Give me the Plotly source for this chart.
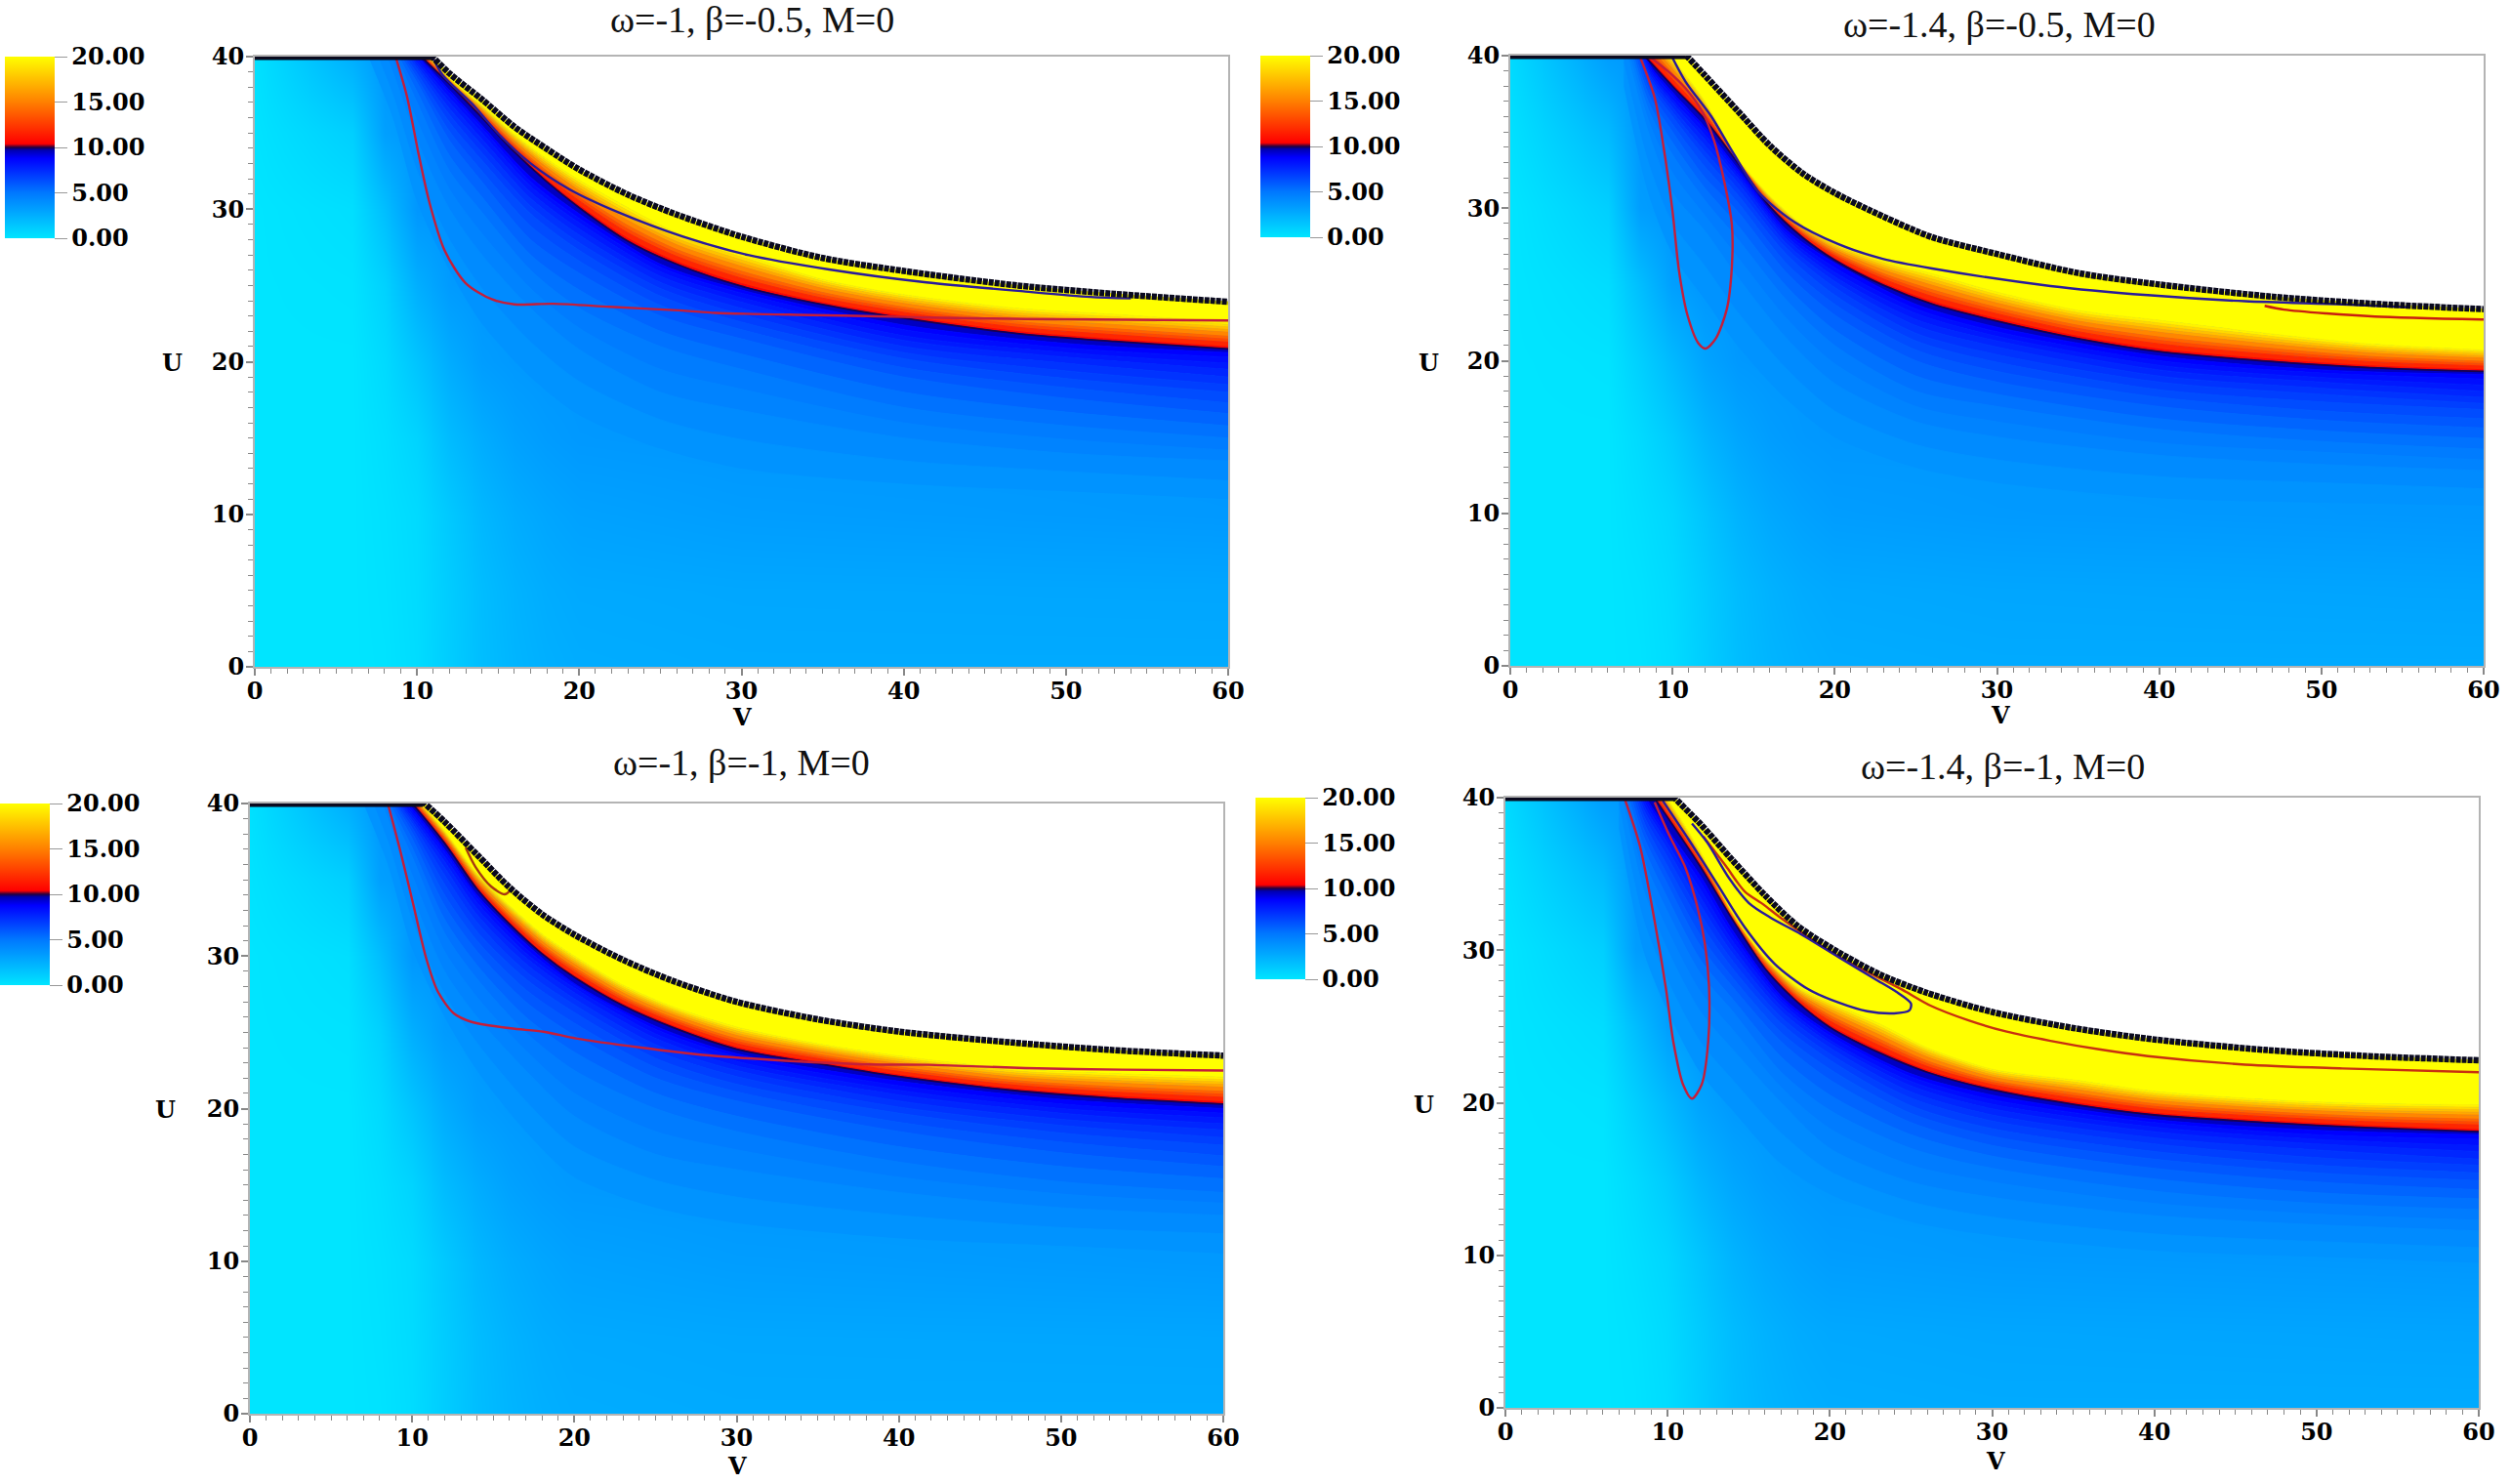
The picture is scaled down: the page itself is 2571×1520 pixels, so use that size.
# %%
import plotly.graph_objects as go
import plotly.colors as pc

W = 2571
H = 1520

TICK_FONT = dict(family="DejaVu Serif", size=24, color="black", weight="bold")
TITLE_FONT = dict(family="Liberation Serif", size=38, color="#111111")
AXIS_GREY = "#b4b4b4"

COLORSCALE = [
    [0.0, "#00e5ff"],
    [0.25, "#0078ff"],
    [0.44, "#0000ff"],
    [0.485, "#0000b0"],
    [0.5, "#200040"],
    [0.52, "#ff0000"],
    [0.75, "#ff8000"],
    [1.0, "#ffff00"],
]
CBAR_TICKS = [0, 5, 10, 15, 20]

# %% far field, read off the lower left of the panels
BASE_V = [0, 6, 8, 10, 12, 14, 16, 18, 20, 30, 60]
BASE_U = [0, 5, 10, 15, 20, 25, 30, 35, 40]
# omega=-1 panels
BASE_Z_A = [
    [0.0, 0.0, 0.1, 0.4, 1.1, 1.8, 2.2, 2.45, 2.6, 2.7, 2.7],
    [0.0, 0.0, 0.15, 0.45, 1.15, 1.85, 2.3, 2.6, 2.75, 2.85, 2.9],
    [0.0, 0.0, 0.2, 0.5, 1.3, 2.1, 2.6, 2.9, 3.1, 3.3, 3.5],
    [0.0, 0.0, 0.3, 0.8, 1.9, 2.6, 3.1, 3.35, 3.5, 3.6, 3.6],
    [0.0, 0.0, 0.5, 1.5, 2.6, 3.3, 3.5, 3.6, 3.6, 3.6, 3.6],
    [0.0, 0.1, 0.9, 2.5, 3.4, 3.6, 3.6, 3.6, 3.6, 3.6, 3.6],
    [0.0, 0.3, 1.8, 3.6, 3.6, 3.6, 3.6, 3.6, 3.6, 3.6, 3.6],
    [0.1, 1.0, 3.2, 3.6, 3.6, 3.6, 3.6, 3.6, 3.6, 3.6, 3.6],
    [0.2, 2.5, 3.6, 3.6, 3.6, 3.6, 3.6, 3.6, 3.6, 3.6, 3.6],
]
# omega=-1.4 panels
BASE_Z_B = [
    [0.0, 0.0, 0.1, 0.4, 1.1, 1.8, 2.2, 2.45, 2.6, 2.7, 2.7],
    [0.0, 0.0, 0.15, 0.5, 1.2, 1.9, 2.35, 2.65, 2.8, 2.9, 3.0],
    [0.0, 0.0, 0.3, 0.7, 1.5, 2.3, 2.8, 3.1, 3.3, 3.45, 3.6],
    [0.0, 0.0, 0.5, 1.2, 2.2, 2.9, 3.3, 3.5, 3.6, 3.6, 3.6],
    [0.0, 0.1, 1.0, 2.0, 3.0, 3.5, 3.6, 3.6, 3.6, 3.6, 3.6],
    [0.0, 0.4, 1.8, 3.2, 3.6, 3.6, 3.6, 3.6, 3.6, 3.6, 3.6],
    [0.0, 1.0, 3.3, 3.6, 3.6, 3.6, 3.6, 3.6, 3.6, 3.6, 3.6],
    [0.2, 2.0, 3.6, 3.6, 3.6, 3.6, 3.6, 3.6, 3.6, 3.6, 3.6],
    [0.5, 3.3, 3.6, 3.6, 3.6, 3.6, 3.6, 3.6, 3.6, 3.6, 3.6],
]

# %% level curves U(V) on the blue side of the ridge, one row per level
BLUE_LEVELS = [3.6, 3.95, 4.3, 4.65, 5.0, 5.4, 5.8, 6.2, 6.6, 7.0, 7.4, 7.8, 8.2, 8.6, 9.0]
BLUE_V = [7, 8.5, 10, 12, 14, 17, 20, 25, 30, 40, 50, 60]

TL_BLUE = [
    [40, 36, 30.5, 26, 22.5, 19, 16.5, 14.3, 13, 12, 11.5, 11],
    [41.5, 37.5, 32.5, 28, 24.8, 21.3, 18.7, 16.2, 14.9, 13.5, 12.8, 12.2],
    [43, 39, 34.5, 30, 27, 23.5, 20.8, 18, 16.8, 15, 14, 13.5],
    [43.5, 39.8, 35.8, 31.3, 28.4, 24.8, 22.2, 19.5, 18.2, 16, 14.9, 14.2],
    [44, 40.5, 37, 32.5, 29.8, 26, 23.5, 21, 19.5, 17, 15.8, 15],
    [44.2, 40.8, 37.7, 33.5, 30.8, 27, 24.7, 22, 20.5, 18, 16.7, 15.8],
    [44.5, 41, 38.3, 34.5, 31.8, 28, 25.8, 23, 21.5, 19, 17.6, 16.6],
    [44.7, 41.2, 38.6, 35.1, 32.5, 28.9, 26.6, 23.7, 22.1, 19.6, 18.3, 17.3],
    [45, 41.3, 38.9, 35.7, 33.2, 29.7, 27.3, 24.3, 22.6, 20.2, 18.9, 18],
    [45.2, 41.4, 39.2, 36.2, 33.7, 30.2, 27.8, 24.8, 23.1, 20.6, 19.4, 18.5],
    [45.5, 41.5, 39.4, 36.6, 34.2, 30.7, 28.3, 25.2, 23.5, 21, 19.9, 19],
    [45.7, 41.6, 39.6, 37, 34.6, 31.1, 28.7, 25.6, 23.9, 21.4, 20.3, 19.5],
    [46, 41.7, 39.8, 37.3, 35, 31.5, 29.1, 25.9, 24.2, 21.7, 20.6, 19.9],
    [46.2, 41.8, 40, 37.6, 35.3, 31.8, 29.4, 26.2, 24.5, 22.1, 20.9, 20.3],
    [46.5, 41.9, 40.1, 37.8, 35.5, 32.1, 29.7, 26.4, 24.7, 22.4, 21.2, 20.6],
]
TR_BLUE = [
    [38, 31, 27, 24, 21, 17.5, 15, 13, 12, 11, 10.7, 10.5],
    [39.5, 33, 29, 26.2, 23.2, 19.5, 16.7, 14.5, 13.5, 12.4, 12, 11.6],
    [41, 35, 31, 28.5, 25.5, 21.5, 18.5, 16, 15, 13.8, 13.2, 12.8],
    [41.5, 35.8, 32.3, 29.5, 26.8, 22.8, 19.8, 17, 16, 14.6, 14, 13.5],
    [42, 36.5, 33.5, 30.5, 28, 24, 21, 18, 17, 15.5, 14.7, 14.2],
    [42.5, 37, 34.3, 31.3, 28.9, 24.9, 22, 19, 17.8, 16.2, 15.4, 14.9],
    [43, 37.5, 35, 32, 29.8, 25.8, 23, 20, 18.6, 17, 16.1, 15.6],
    [43.5, 37.9, 35.5, 32.7, 30.4, 26.4, 23.7, 20.7, 19.3, 17.6, 16.7, 16.2],
    [44, 38.3, 36, 33.3, 30.9, 27, 24.3, 21.3, 19.9, 18.1, 17.3, 16.8],
    [44.5, 38.6, 36.3, 33.7, 31.3, 27.4, 24.8, 21.8, 20.4, 18.6, 17.8, 17.2],
    [45, 38.8, 36.6, 34.1, 31.7, 27.7, 25.2, 22.3, 20.9, 19, 18.2, 17.6],
    [45.5, 39, 36.9, 34.5, 32, 28, 25.5, 22.7, 21.3, 19.4, 18.6, 18],
    [46, 39.2, 37.1, 34.8, 32.2, 28.2, 25.8, 23.1, 21.6, 19.7, 18.9, 18.4],
    [46.5, 39.4, 37.4, 35.1, 32.4, 28.4, 26.1, 23.4, 21.9, 20, 19.2, 18.8],
    [47, 39.6, 37.6, 35.3, 32.6, 28.6, 26.4, 23.7, 22.2, 20.3, 19.4, 19.1],
]
BL_BLUE = [
    [40, 36, 30.5, 26, 22.5, 18.5, 15.5, 13.5, 12.5, 11.5, 11, 10.5],
    [41.5, 37.5, 32.3, 27.5, 24.3, 20.5, 17.5, 15.3, 14.2, 13, 12.2, 11.8],
    [43, 39, 34, 29, 26, 22.5, 19.5, 17, 16, 14.5, 13.5, 13],
    [43.5, 39.5, 35.3, 30.3, 27.3, 23.8, 21, 18.5, 17.3, 15.5, 14.4, 13.8],
    [44, 40, 36.5, 31.5, 28.5, 25, 22.5, 20, 18.5, 16.5, 15.2, 14.5],
    [44.2, 40.3, 37.1, 32.4, 29.4, 26, 23.7, 21, 19.5, 17.5, 16.2, 15.4],
    [44.5, 40.6, 37.7, 33.3, 30.3, 27, 24.8, 22, 20.5, 18.5, 17.1, 16.2],
    [44.7, 40.8, 38.1, 34, 31, 27.8, 25.6, 22.7, 21.1, 19.1, 17.8, 16.9],
    [45, 40.9, 38.4, 34.7, 31.6, 28.5, 26.3, 23.3, 21.6, 19.7, 18.4, 17.6],
    [45.2, 41, 38.7, 35.3, 32.2, 29, 26.8, 23.8, 22.1, 20.1, 18.9, 18.1],
    [45.5, 41.1, 38.9, 35.8, 32.7, 29.5, 27.2, 24.2, 22.5, 20.5, 19.3, 18.6],
    [45.7, 41.2, 39.1, 36.2, 33.1, 29.9, 27.6, 24.6, 22.8, 20.9, 19.7, 19],
    [46, 41.3, 39.3, 36.5, 33.5, 30.2, 27.9, 24.9, 23.1, 21.2, 20, 19.4],
    [46.2, 41.4, 39.5, 36.8, 33.8, 30.5, 28.1, 25.2, 23.4, 21.5, 20.3, 19.7],
    [46.5, 41.5, 39.7, 37, 34, 30.8, 28.2, 25.4, 23.6, 21.8, 20.6, 20],
]
BR_BLUE = [
    [38, 30, 26, 22, 19.5, 16, 14, 12.2, 11.3, 10.3, 9.9, 9.5],
    [39.5, 32, 28, 24, 21.5, 18, 15.5, 13.5, 12.5, 11.4, 10.9, 10.5],
    [41, 34, 30, 26, 23.5, 20, 17, 14.8, 13.8, 12.6, 12, 11.6],
    [41.5, 35, 31.3, 27.3, 24.8, 21, 18.3, 15.9, 14.8, 13.4, 12.7, 12.3],
    [42, 36, 32.5, 28.5, 26, 22, 19.5, 17, 15.7, 14.2, 13.4, 13],
    [42.5, 36.8, 33.4, 29.4, 26.8, 23, 20.5, 17.9, 16.5, 15, 14.1, 13.7],
    [43, 37.5, 34.3, 30.3, 27.6, 24, 21.5, 18.7, 17.2, 15.7, 14.8, 14.3],
    [43.5, 38, 34.9, 31, 28.2, 24.6, 22.2, 19.3, 17.8, 16.3, 15.4, 14.9],
    [44, 38.5, 35.5, 31.8, 28.8, 25.2, 22.8, 19.8, 18.3, 16.8, 15.9, 15.4],
    [44.5, 38.9, 36.1, 32.4, 29.3, 25.6, 23.2, 20.3, 18.8, 17.3, 16.4, 15.9],
    [45, 39.3, 36.6, 33, 29.8, 26, 23.6, 20.7, 19.2, 17.7, 16.9, 16.3],
    [45.5, 39.6, 37, 33.5, 30.2, 26.3, 23.9, 21.1, 19.6, 18.1, 17.3, 16.8],
    [46, 39.9, 37.3, 34, 30.6, 26.6, 24.1, 21.4, 19.9, 18.4, 17.6, 17.2],
    [46.5, 40.2, 37.6, 34.5, 31, 26.8, 24.4, 21.7, 20.2, 18.7, 17.9, 17.6],
    [47, 40.4, 37.9, 34.9, 31.3, 27, 24.6, 21.9, 20.5, 18.9, 18.2, 17.9],
]

# %% warm side of the ridge, one row per V, columns follow WARM_LEVELS
WARM_LEVELS = [10, 11, 12.5, 13.5, 14.5, 16, 17, 18, 19, 20]
WARM_V = [8, 10, 12, 14, 16, 18, 20, 23, 26, 30, 35, 40, 47, 53, 60]

TL_WARM = [
    [43, 43.02, 43.05, 43.07, 43.09, 43.12, 43.14, 43.16, 43.18, 43.2],
    [40.3, 40.35, 40.45, 40.52, 40.58, 40.67, 40.73, 40.79, 40.85, 40.9],
    [38.2, 38.23, 38.3, 38.35, 38.39, 38.45, 38.49, 38.53, 38.57, 38.6],
    [36, 36.06, 36.2, 36.29, 36.38, 36.5, 36.58, 36.66, 36.73, 36.8],
    [33.75, 33.84, 34.04, 34.17, 34.29, 34.46, 34.58, 34.69, 34.8, 34.9],
    [31.8, 31.92, 32.18, 32.34, 32.5, 32.73, 32.88, 33.03, 33.17, 33.3],
    [30.1, 30.24, 30.55, 30.75, 30.95, 31.22, 31.4, 31.58, 31.74, 31.9],
    [27.9, 28.08, 28.45, 28.69, 28.93, 29.26, 29.48, 29.7, 29.9, 30.1],
    [26.4, 26.56, 26.91, 27.14, 27.36, 27.67, 27.88, 28.08, 28.27, 28.45],
    [24.95, 25.12, 25.47, 25.7, 25.93, 26.25, 26.46, 26.67, 26.86, 27.05],
    [23.75, 23.88, 24.17, 24.36, 24.54, 24.8, 24.97, 25.13, 25.27, 25.4],
    [22.85, 22.98, 23.24, 23.42, 23.58, 23.82, 23.98, 24.13, 24.27, 24.4],
    [21.85, 21.98, 22.26, 22.45, 22.63, 22.87, 23.04, 23.2, 23.35, 23.5],
    [21.33, 21.47, 21.77, 21.97, 22.16, 22.43, 22.61, 22.78, 22.94, 23.1],
    [20.84, 20.98, 21.28, 21.48, 21.67, 21.93, 22.11, 22.28, 22.44, 22.6],
]
TR_WARM = [
    [40.3, 40.46, 40.8, 41.02, 41.24, 41.54, 41.74, 41.94, 42.12, 42.3],
    [38, 38.14, 38.45, 38.65, 38.85, 39.12, 39.3, 39.48, 39.64, 39.8],
    [35.8, 35.9, 36.1, 36.23, 36.36, 36.54, 36.66, 36.78, 36.89, 37],
    [33, 33.02, 33.08, 33.11, 33.14, 33.19, 33.22, 33.25, 33.28, 33.3],
    [30.1, 30.15, 30.27, 30.35, 30.42, 30.53, 30.6, 30.67, 30.74, 30.8],
    [28.1, 28.16, 28.3, 28.39, 28.48, 28.6, 28.68, 28.76, 28.83, 28.9],
    [26.6, 26.7, 26.88, 27.0, 27.12, 27.28, 27.39, 27.5, 27.6, 27.7],
    [24.95, 25.08, 25.36, 25.54, 25.71, 25.95, 26.11, 26.26, 26.41, 26.55],
    [23.72, 23.88, 24.22, 24.45, 24.66, 24.95, 25.15, 25.35, 25.53, 25.7],
    [22.6, 22.75, 23.08, 23.29, 23.49, 23.78, 23.97, 24.16, 24.33, 24.5],
    [21.45, 21.6, 21.91, 22.12, 22.32, 22.6, 22.79, 22.97, 23.14, 23.3],
    [20.6, 20.76, 21.11, 21.34, 21.56, 21.87, 22.08, 22.28, 22.47, 22.65],
    [19.95, 20.09, 20.4, 20.6, 20.8, 21.07, 21.25, 21.43, 21.59, 21.75],
    [19.55, 19.67, 19.94, 20.11, 20.28, 20.51, 20.67, 20.82, 20.96, 21.1],
    [19.3, 19.41, 19.65, 19.81, 19.96, 20.17, 20.31, 20.45, 20.58, 20.7],
]
BL_WARM = [
    [42.3, 42.36, 42.48, 42.56, 42.63, 42.73, 42.8, 42.87, 42.94, 43],
    [40, 40.06, 40.18, 40.26, 40.33, 40.43, 40.5, 40.57, 40.64, 40.7],
    [37.4, 37.46, 37.6, 37.69, 37.78, 37.9, 37.98, 38.06, 38.13, 38.2],
    [34.4, 34.48, 34.65, 34.76, 34.87, 35.02, 35.12, 35.22, 35.31, 35.4],
    [32.1, 32.2, 32.4, 32.53, 32.66, 32.84, 32.96, 33.08, 33.19, 33.3],
    [30.15, 30.25, 30.48, 30.62, 30.76, 30.96, 31.09, 31.22, 31.34, 31.45],
    [28.6, 28.71, 28.95, 29.11, 29.26, 29.47, 29.61, 29.75, 29.88, 30],
    [26.75, 26.86, 27.09, 27.24, 27.38, 27.59, 27.73, 27.86, 27.98, 28.1],
    [25.35, 25.46, 25.69, 25.84, 25.98, 26.19, 26.33, 26.46, 26.58, 26.7],
    [23.9, 24.02, 24.26, 24.42, 24.58, 24.8, 24.95, 25.09, 25.22, 25.35],
    [22.95, 23.05, 23.28, 23.42, 23.56, 23.76, 23.89, 24.02, 24.14, 24.25],
    [22.1, 22.21, 22.44, 22.59, 22.73, 22.94, 23.08, 23.21, 23.33, 23.45],
    [21.2, 21.31, 21.55, 21.71, 21.86, 22.07, 22.21, 22.35, 22.48, 22.6],
    [20.7, 20.83, 21.1, 21.28, 21.45, 21.69, 21.85, 22.01, 22.16, 22.3],
    [20.3, 20.44, 20.74, 20.94, 21.13, 21.4, 21.58, 21.75, 21.91, 22.07],
]
BR_WARM = [
    [41.8, 41.88, 42.05, 42.16, 42.27, 42.42, 42.52, 42.62, 42.71, 42.8],
    [38.7, 38.8, 39, 39.13, 39.26, 39.44, 39.56, 39.68, 39.79, 39.9],
    [35.5, 35.58, 35.75, 35.86, 35.97, 36.12, 36.22, 36.32, 36.41, 36.5],
    [32, 32.04, 32.12, 32.18, 32.23, 32.3, 32.35, 32.4, 32.45, 32.5],
    [28.8, 28.87, 29.0, 29.1, 29.2, 29.3, 29.37, 29.43, 29.47, 29.5],
    [26.6, 26.68, 26.85, 26.96, 27.07, 27.22, 27.32, 27.42, 27.51, 27.6],
    [24.95, 25.08, 25.36, 25.55, 25.73, 25.97, 26.14, 26.3, 26.45, 26.6],
    [23.3, 23.45, 23.78, 24.0, 24.2, 24.48, 24.67, 24.86, 25.03, 25.2],
    [22, 22.12, 22.38, 22.56, 22.74, 23, 23.17, 23.33, 23.47, 23.6],
    [20.85, 20.96, 21.19, 21.34, 21.48, 21.69, 21.83, 21.96, 22.08, 22.2],
    [19.9, 20.03, 20.3, 20.48, 20.65, 20.89, 21.05, 21.21, 21.36, 21.5],
    [19.2, 19.32, 19.59, 19.76, 19.93, 20.16, 20.32, 20.47, 20.61, 20.75],
    [18.7, 18.82, 19.08, 19.25, 19.41, 19.63, 19.78, 19.93, 20.07, 20.2],
    [18.37, 18.5, 18.77, 18.94, 19.11, 19.35, 19.51, 19.67, 19.81, 19.95],
    [18.1, 18.24, 18.54, 18.74, 18.93, 19.19, 19.37, 19.54, 19.7, 19.86],
]

# %% outer black edge, same V as WARM_V
TL_EDGE = [43, 41, 38.9, 37.2, 35.4, 33.95, 32.6, 30.95, 29.65, 28.2, 26.8, 25.95, 25, 24.45, 23.93]
TR_EDGE = [43.5, 41, 38.7, 36.4, 34.1, 32.3, 31, 29.45, 28.1, 27, 25.75, 25, 24.2, 23.75, 23.38]
BL_EDGE = [43.3, 40.8, 38.8, 36.65, 34.5, 32.75, 31.4, 29.75, 28.4, 27, 25.85, 25.05, 24.33, 23.85, 23.47]
BR_EDGE = [43.5, 40.5, 38.3, 35.9, 33.6, 31.6, 30.2, 28.45, 27.2, 25.95, 24.9, 24.15, 23.45, 23.07, 22.78]

# flat black stretch along U=40, from V=0 to where the edge leaves the top
TOP_END_V = [10.95, 10.8, 10.65, 10.35]

# %% contour lines
TL_RED_V = [8.68, 9.4, 10.08, 10.75, 11.7, 13, 14.6, 16, 18.4, 21.9, 26.4, 28.4, 34.4, 38.4, 41.4, 47.5, 60]
TL_RED_U = [40, 37.3, 33.7, 30.5, 27.3, 25.15, 24.1, 23.76, 23.8, 23.6, 23.35, 23.2, 23.06, 22.98, 22.9, 22.8, 22.7]
TL_BLUE_V = [10.95, 11.57, 13.4, 15, 17, 19.4, 22.4, 26.4, 30.4, 35.4, 41.4, 47.5, 51.5, 54]
TL_BLUE_U = [40, 38.8, 36.9, 34.96, 33, 31.3, 29.8, 28.2, 27, 26.05, 25.2, 24.6, 24.25, 24.15]

TR_RED_V = [7.97, 8.9, 9.45, 10, 10.4, 10.93, 11.6, 12.05, 12.67, 13.35, 13.66, 13.66, 13.2, 12.54, 11.85, 10.77, 9.7, 8.5]
TR_RED_U = [40, 37.25, 34, 29.8, 25.9, 22.96, 21.14, 20.8, 21.46, 23.4, 26.2, 28.9, 31.7, 34.5, 36.3, 37.9, 39, 40]
TR_RED2_V = [46.5, 47.7, 50.3, 53.3, 60]
TR_RED2_U = [23.6, 23.35, 23.1, 22.9, 22.7]
TR_BLUE_V = [9.93, 10.8, 12.4, 13.75, 15.35, 17.5, 20.2, 22.9, 26, 33.3, 39.3, 45.3, 51.3, 55.4]
TR_BLUE_U = [40, 38.3, 36, 33.6, 31, 29.1, 27.65, 26.7, 26.05, 24.9, 24.3, 23.9, 23.7, 23.5]

BL_RED_V = [8.5, 9.27, 10.05, 10.87, 11.57, 12.57, 13.67, 16.07, 18.1, 20.1, 24.1, 28.1, 32.1, 38.1, 41.8, 47.8, 53.8, 60]
BL_RED_U = [40, 36.9, 33.47, 29.84, 27.7, 26.24, 25.68, 25.26, 25.04, 24.6, 24, 23.5, 23.2, 22.9, 22.87, 22.66, 22.55, 22.5]
BL_LOOP_V = [13.3, 13.9, 14.87, 15.7, 16.05]
BL_LOOP_U = [37.1, 35.85, 34.56, 34.05, 34.3]

BR_RED_V = [7.33, 8.3, 9.2, 9.9, 10.35, 10.95, 11.5, 12.1, 12.5, 12.55, 12.3, 11.85, 11.06, 10.14, 9.2]
BR_RED_U = [40, 36.8, 31.9, 27.45, 24, 21.2, 20.27, 21.2, 24, 27.65, 30.4, 32.77, 35.5, 37.45, 39.7]
BR_RED2_V = [12.2, 13.6, 14.75, 15.9, 17, 20.5, 24.4, 26.2, 28.55, 30.9, 33.6, 36.6, 39.6, 45.6, 51.6, 60]
BR_RED2_U = [37.45, 35.5, 33.85, 33, 32.1, 29.6, 27.45, 26.37, 25.4, 24.66, 24.06, 23.5, 23.06, 22.5, 22.25, 22]
BR_BLUE_V = [9.7, 11.3, 13.1, 14.75, 16.6, 18.65, 20.5, 22.3, 23.96, 24.9, 25, 24.2, 22.8, 20.5, 18.2, 16.35, 15, 13.8, 12.45, 11.5]
BR_BLUE_U = [39.8, 37.25, 34.26, 31.5, 29.1, 27.45, 26.58, 26, 25.86, 26.05, 26.5, 27.2, 28.1, 29.57, 31.06, 32.13, 33.1, 34.7, 37.05, 38.3]

RED = "#c41e3a"
BLUE = "#2a1a9a"
BROWN = "#a83a10"

PANELS = [
    dict(title="ω=-1, β=-0.5, M=0", box=(261, 1258, 58, 683), bar=5, base=BASE_Z_A,
         blue=TL_BLUE, warm=TL_WARM, edge=TL_EDGE,
         title_xy=(770, 20), u_xy=(176, 371), v_xy=(760, 734),
         lines=[(TL_RED_V, TL_RED_U, RED), (TL_BLUE_V, TL_BLUE_U, BLUE)]),
    dict(title="ω=-1.4, β=-0.5, M=0", box=(1547, 2544, 57, 682), bar=1291, base=BASE_Z_B,
         blue=TR_BLUE, warm=TR_WARM, edge=TR_EDGE,
         title_xy=(2048, 25), u_xy=(1463, 371), v_xy=(2049, 732),
         lines=[(TR_RED_V, TR_RED_U, RED), (TR_RED2_V, TR_RED2_U, "#c81e10"), (TR_BLUE_V, TR_BLUE_U, BLUE)]),
    dict(title="ω=-1, β=-1, M=0", box=(256, 1253, 823, 1448), bar=0, base=BASE_Z_A,
         blue=BL_BLUE, warm=BL_WARM, edge=BL_EDGE,
         title_xy=(759, 781), u_xy=(169, 1136), v_xy=(755, 1501),
         lines=[(BL_RED_V, BL_RED_U, RED), (BL_LOOP_V, BL_LOOP_U, BROWN)]),
    dict(title="ω=-1.4, β=-1, M=0", box=(1542, 2539, 817, 1442), bar=1286, base=BASE_Z_B,
         blue=BR_BLUE, warm=BR_WARM, edge=BR_EDGE,
         title_xy=(2051, 785), u_xy=(1458, 1131), v_xy=(2044, 1496),
         lines=[(BR_RED_V, BR_RED_U, RED), (BR_RED2_V, BR_RED2_U, "#c83010"), (BR_BLUE_V, BR_BLUE_U, BLUE)]),
]


def z_color(z):
    return pc.sample_colorscale(COLORSCALE, [z / 20])[0]


def curve(x, y, axes, color=None, width=0, fill=None, fillcolor=None, dash=None):
    return go.Scatter(
        x=x,
        y=y,
        mode="lines",
        line=dict(color=color or "rgba(0,0,0,0)", width=width, shape="spline", smoothing=0.8, dash=dash),
        fill=fill,
        fillcolor=fillcolor,
        hoverinfo="skip",
        showlegend=False,
        **axes,
    )


# %%
fig = go.Figure()

for n, p in enumerate(PANELS, start=1):
    left, right, top, bottom = p["box"]
    axes = dict(xaxis=f"x{n}", yaxis=f"y{n}")

    fig.add_trace(
        go.Heatmap(
            x=BASE_V,
            y=BASE_U,
            z=p["base"],
            zmin=0,
            zmax=20,
            zsmooth="best",
            colorscale=COLORSCALE,
            hoverinfo="skip",
            colorbar=dict(
                x=p["bar"] / W,
                xanchor="left",
                xpad=0,
                y=1 - top / H,
                yanchor="top",
                ypad=0,
                len=186 / H,
                thickness=51,
                outlinewidth=0,
                borderwidth=0,
                tickvals=CBAR_TICKS,
                ticktext=[f"{v:.2f}" for v in CBAR_TICKS],
                ticks="outside",
                ticklen=13,
                tickcolor="#999999",
                tickfont=TICK_FONT,
            ),
            **axes,
        )
    )

    # blue side, each band filled up to the previous level curve
    fig.add_trace(curve(BLUE_V, p["blue"][0], axes))
    for i in range(1, len(BLUE_LEVELS)):
        c = z_color((BLUE_LEVELS[i - 1] + BLUE_LEVELS[i]) / 2)
        fig.add_trace(curve(BLUE_V, p["blue"][i], axes, c, 1, "tonexty", c))

    # warm side, the table is stored by V so take its columns
    warm_rows = [list(col) for col in zip(*p["warm"])]
    c = z_color(9.5)
    fig.add_trace(curve(WARM_V, warm_rows[0], axes, c, 1, "tonexty", c))
    for i in range(1, len(WARM_LEVELS)):
        c = z_color((WARM_LEVELS[i - 1] + WARM_LEVELS[i]) / 2)
        fig.add_trace(curve(WARM_V, warm_rows[i], axes, c, 1, "tonexty", c))

    c = z_color(20)
    fig.add_trace(curve(WARM_V, p["edge"], axes, c, 1, "tonexty", c))
    fig.add_trace(curve([WARM_V[0], WARM_V[-1]], [50, 50], axes, None, 0, "tonexty", "white"))

    fig.add_trace(curve(WARM_V, warm_rows[0], axes, "#1a0050", 1.8))
    for vs, us, col in p["lines"]:
        fig.add_trace(curve(vs, us, axes, col, 2.4))
    fig.add_trace(curve(WARM_V, p["edge"], axes, "#0a0a1e", 6.5, dash="5px,1px"))
    fig.add_trace(curve([0, TOP_END_V[n - 1]], [40, 40], axes, "#0a0a1e", 7))

    suffix = "" if n == 1 else str(n)
    common = dict(
        showline=True,
        mirror=True,
        linecolor=AXIS_GREY,
        linewidth=2,
        showgrid=False,
        zeroline=False,
        ticks="outside",
        ticklen=7,
        tickwidth=1.5,
        tickcolor="#888888",
        dtick=10,
        tick0=0,
        tickfont=TICK_FONT,
        minor=dict(dtick=1, ticks="outside", ticklen=5, tickwidth=1, tickcolor="#888888", showgrid=False),
    )
    fig.update_layout(
        {
            f"xaxis{suffix}": dict(
                domain=[left / W, right / W], range=[0, 60], anchor=f"y{n}", ticklabelstandoff=-5, **common
            ),
            f"yaxis{suffix}": dict(
                domain=[1 - bottom / H, 1 - top / H], range=[0, 40], anchor=f"x{n}", ticklabelstandoff=-3, **common
            ),
        }
    )

    for text, xy, font in [
        (p["title"], p["title_xy"], TITLE_FONT),
        ("U", p["u_xy"], TICK_FONT),
        ("V", p["v_xy"], TICK_FONT),
    ]:
        fig.add_annotation(
            text=text,
            x=xy[0] / W,
            y=1 - xy[1] / H,
            xref="paper",
            yref="paper",
            xanchor="center",
            yanchor="middle",
            showarrow=False,
            font=font,
        )

fig.update_layout(
    width=W,
    height=H,
    margin=dict(l=0, r=0, t=0, b=0, autoexpand=False),
    paper_bgcolor="white",
    plot_bgcolor="white",
    showlegend=False,
)

fig.write_html(
    "out.html",
    config=dict(displayModeBar=False),
    post_script="document.body.style.margin='0';",
)
